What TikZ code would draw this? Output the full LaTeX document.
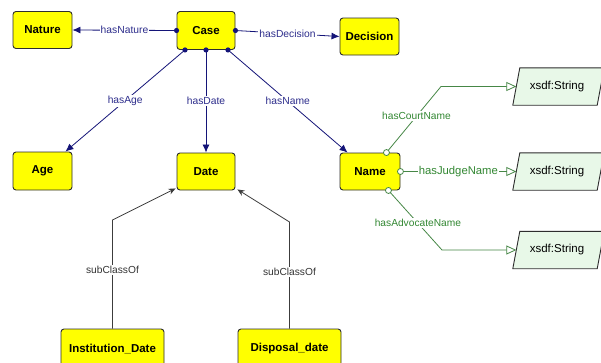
\documentclass[tikz,border=0pt]{standalone}
\usepackage{fontspec}
\setmainfont{Liberation Sans}
\usetikzlibrary{arrows.meta,calc}

\definecolor{boxyellow}{RGB}{255,255,0}
\definecolor{boxedge}{RGB}{45,45,45}
\definecolor{navyline}{RGB}{20,20,120}
\definecolor{navytext}{RGB}{45,45,140}
\definecolor{greenline}{RGB}{70,135,70}
\definecolor{greentext}{RGB}{50,135,50}
\definecolor{litgreen}{RGB}{232,248,232}
\definecolor{subline}{RGB}{60,60,60}

\tikzset{
  cls/.style={draw=boxedge, line width=0.9pt, fill=boxyellow, rounded corners=3pt,
    font=\fontsize{11.5}{13}\selectfont\bfseries, inner sep=0pt},
  dtype/.style={inner sep=0pt, minimum width=84pt, minimum height=37pt,
    font=\fontsize{11.5}{13}\selectfont},
  objprop/.style={draw=navyline, line width=0.8pt, -{Latex[length=8pt,width=7pt]}},
  blbl/.style={fill=white, text=navytext, inner sep=1pt, font=\fontsize{10.3}{12}\selectfont},
  dprop/.style={draw=greenline, line width=0.8pt, -{Triangle[open,length=10pt,width=9pt]}},
  glbl/.style={fill=white, text=greentext, inner sep=1pt, font=\fontsize{10.2}{12}\selectfont},
  subcls/.style={draw=subline, line width=0.8pt, -{Stealth[length=7pt,width=6pt]}},
  slbl/.style={fill=white, text=black!80, inner sep=1pt, font=\fontsize{10.2}{12}\selectfont},
  srcdot/.style={fill=navyline},
  srcring/.style={draw=greenline, line width=0.8pt, fill=white}
}

\begin{document}
\begin{tikzpicture}[x=1pt,y=-1pt]
  \useasboundingbox (0,0) rectangle (601,362);
  \fill[white] (0,0) rectangle (601,362);
  \clip (0,0) rectangle (601,362);

  % classes
  \node[cls, minimum width=59pt, minimum height=37pt] (nature)   at (42.5,30)    {Nature};
  \node[cls, minimum width=58pt, minimum height=38pt] (case)     at (206,30.5)   {Case};
  \node[cls, minimum width=59pt, minimum height=37pt] (decision) at (369.5,36.5) {Decision};
  \node[cls, minimum width=59pt, minimum height=38pt] (age)      at (42.5,171)   {Age};
  \node[cls, minimum width=58pt, minimum height=37pt] (date)     at (206,171.5)  {Date};
  \node[cls, minimum width=60pt, minimum height=37pt] (name)     at (370,171.5)  {Name};
  \node[cls, minimum width=103pt, minimum height=40pt] (instdate) at (112.5,349) {Institution\_Date};
  \node[cls, minimum width=103pt, minimum height=40pt] (dispdate) at (289.5,349) {Disposal\_date};

  % datatype boxes (slanted)
  \foreach \nm/\yy in {str1/86.5, str2/171.5, str3/250} {
    \node[dtype] (\nm) at (558.5,\yy) {};
    \draw[draw=boxedge, line width=0.9pt, fill=litgreen]
      ($(\nm.north west)+(3.5,0)$) -- ($(\nm.north east)+(3.5,0)$) --
      ($(\nm.south east)+(-3.5,0)$) -- ($(\nm.south west)+(-3.5,0)$) -- cycle;
    \node[dtype] at ($(\nm.center)+(-1.5,0)$) {xsdf:String};
  }

  % object properties
  \coordinate (c1) at ($(case.south)+(-21,0)$);
  \coordinate (c2) at (case.south);
  \coordinate (c3) at ($(case.south)+(22,0)$);

  \draw[objprop] (case.west) -- node[blbl] {hasNature} (nature.east);
  \draw[objprop] (case.east) -- node[blbl] {hasDecision} (decision.west);
  \draw[objprop] (c1) -- node[blbl] {hasAge} ($(age.north east)+(-7,0)$);
  \draw[objprop] (c2) -- node[blbl] {hasDate} (date.north);
  \draw[objprop] (c3) -- node[blbl] {hasName} ($(name.north west)+(8,0)$);
  \foreach \p in {case.west, case.east, c1, c2, c3}
    \fill[srcdot] (\p) circle (2.6pt);

  % datatype properties
  \coordinate (n1) at ($(name.north east)+(-14,0)$);
  \coordinate (n2) at (name.east);
  \coordinate (n3) at ($(name.south east)+(-12,0)$);
  \coordinate (k1) at (441,86.5);
  \coordinate (k3) at (442,250);

  \draw[dprop] (n1) -- node[glbl, pos=.55] {hasCourtName} (k1) -- (str1.west);
  \draw[dprop] (n2) -- node[glbl, pos=.5, font=\fontsize{11.3}{13}\selectfont] {hasJudgeName} (str2.west);
  \draw[dprop] (n3) -- node[glbl, pos=.55] {hasAdvocateName} (k3) -- (str3.west);
  \foreach \p in {n1, n2, n3}
    \draw[srcring] (\p) circle (3pt);

  % subclass links
  \coordinate (b1) at (112.5,220);
  \coordinate (b2) at (289.5,222);
  \draw[subcls] (instdate.north) -- node[slbl, pos=.54] {subClassOf} (b1)
    -- ($(date.south west)+(-1,-2)$);
  \draw[subcls] (dispdate.north) -- node[slbl, pos=.53] {subClassOf} (b2)
    -- ($(date.south east)+(2,-1)$);
\end{tikzpicture}
\end{document}
